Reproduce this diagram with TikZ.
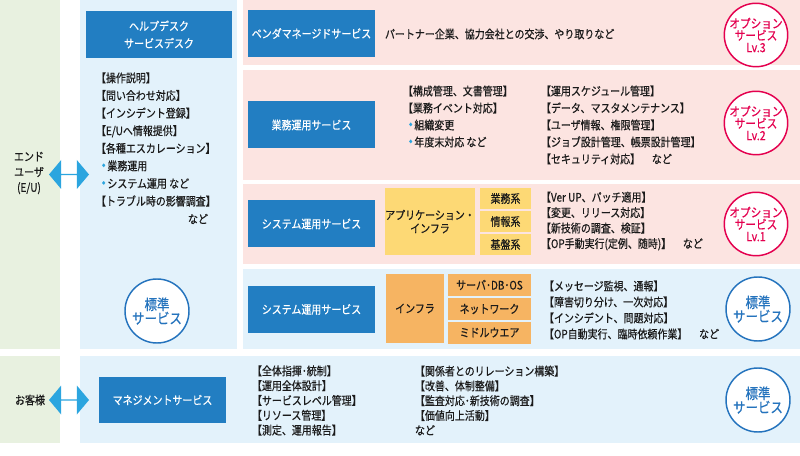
\documentclass[tikz,border=0pt]{standalone}
\usepackage{fontspec}
\setmainfont[FakeStretch=0.85, FakeBold=0.5]{Noto Sans CJK JP}
\usetikzlibrary{shapes.arrows}

\definecolor{bggreen}{HTML}{E8F1E0}
\definecolor{bgblue}{HTML}{E3F2FB}
\definecolor{bgpink}{HTML}{FCE4E1}
\definecolor{boxblue}{HTML}{227EC2}
\definecolor{arrowblue}{HTML}{2BA5DF}
\definecolor{dotblue}{HTML}{2BA5DF}
\definecolor{appyellow}{HTML}{FDD975}
\definecolor{infraorange}{HTML}{F6B462}
\definecolor{optred}{HTML}{E4004F}
\definecolor{stdblue}{HTML}{2473BD}
\definecolor{txtblack}{HTML}{1A1A1A}

\newcommand{\txtfont}{\fontsize{8.8}{13}\selectfont}
\newcommand{\bluedot}{\hspace*{4.5pt}{\color{dotblue}\raisebox{0.3em}{\fontsize{3}{3}\selectfont ●}}\hspace{1.5pt}}

\begin{document}
\begin{tikzpicture}[x=0.75pt, y=-0.75pt,
			every node/.style={inner sep=0pt, outer sep=0pt, text=txtblack, font=\txtfont},
			svcbox/.style={fill=boxblue, text=white, minimum width=95.25pt, minimum height=35.25pt, align=center},
			appbox/.style={fill=appyellow, minimum width=67.5pt, minimum height=50.25pt, align=center, font=\fontsize{8.8}{10}\selectfont},
			appsub/.style={fill=appyellow, minimum width=38.25pt, minimum height=15.75pt},
			infbox/.style={fill=infraorange, minimum width=43.5pt, minimum height=51.75pt},
			infsub/.style={fill=infraorange, minimum width=62.25pt, minimum height=16.5pt},
			optcircle/.style={circle, draw=optred, line width=1.1pt, fill=white, text=optred, minimum size=40.5pt, align=center, font=\fontsize{9.4}{9}\selectfont},
			stdcircle/.style={circle, draw=stdblue, line width=1.1pt, fill=white, text=stdblue, minimum size=48pt, align=center, font=\fontsize{11}{10.5}\selectfont},
			itemlist/.style={anchor=west, align=left},
			dblarrow/.style={double arrow, fill=arrowblue, minimum height=30pt, minimum width=21.75pt, double arrow head extend=5.25pt, double arrow tip angle=100}
			]
			\useasboundingbox (0,0) rectangle (800,456);
			
			% Achtergrondvlakken
			\fill[bggreen] (0,0) rectangle (60,349);
			\fill[bggreen] (0,356) rectangle (60,443);
			\fill[bgblue] (80,0) rectangle (237,349);
			\fill[bgpink] (243,0) rectangle (800,65);
			\fill[bgpink] (243,70) rectangle (800,180);
			\fill[bgpink] (243,184) rectangle (800,264);
			\fill[bgblue] (243,269) rectangle (800,349);
			\fill[bgblue] (80,356) rectangle (800,443);
			
			% Gebruikers en pijlen
			\node[align=center, font=\fontsize{8.8}{11.6}\selectfont] (EU) at (29,173) {エンド\\ユーザ\\(E/U)};
			\node (Kyaku) at (30,400) {お客様};
			\node[dblarrow] (EUarrow) at (69,174.5) {};
			\node[dblarrow] (Kyakuarrow) at (69,400) {};
			
			% Helpdesk-kolom
			\node[svcbox, minimum width=109.5pt, font=\fontsize{8.8}{13}\selectfont] (Helpdesk) at (159,34.5) {ヘルプデスク\\サービスデスク};
			\node[itemlist, font=\fontsize{8.8}{13.2}\selectfont] (HDlist) at (96,139.5) {【操作説明】\\【問い合わせ対応】\\【インシデント登録】\\【E/Uへ情報提供】\\【各種エスカレーション】\\\bluedot 業務運用\\\bluedot システム運用 など\\【トラブル時の影響調査】};
			\node[anchor=west] (HDnado) at (188,219) {など};
			\node[stdcircle] (HDstd) at (157,311) {標準\\サービス};
			
			% Rij 1: vendor
			\node[svcbox] (Vendor) at (311.5,33.5) {ベンダマネージドサービス};
			\node[anchor=west] (Vendortxt) at (385,34) {パートナー企業、協力会社との交渉、やり取りなど};
			\node[optcircle] (Opt3) at (756,35) {オプション\\サービス\\Lv.3};
			
			% Rij 2: bedrijfsbeheer
			\node[svcbox] (Gyomu) at (311.5,125) {業務運用サービス};
			\node[itemlist, font=\fontsize{8.8}{12.75}\selectfont] (GyomuL) at (403,116.5) {【構成管理、文書管理】\\【業務イベント対応】\\\bluedot 組織変更\\\bluedot 年度末対応 など};
			\node[itemlist, font=\fontsize{8.8}{12.75}\selectfont] (GyomuR) at (541,125) {【運用スケジュール管理】\\【データ、マスタメンテナンス】\\【ユーザ情報、権限管理】\\【ジョブ設計管理、帳票設計管理】\\【セキュリティ対応】\quad など};
			\node[optcircle] (Opt2) at (756,123) {オプション\\サービス\\Lv.2};
			
			% Rij 3: systeembeheer (applicatie)
			\node[svcbox] (SysApp) at (311.5,224) {システム運用サービス};
			\node[appbox] (App) at (430,221.5) {アプリケーション・\\インフラ};
			\node[appsub] (AppA) at (505.5,198.5) {業務系};
			\node[appsub] (AppB) at (505.5,221.5) {情報系};
			\node[appsub] (AppC) at (505.5,244.5) {基盤系};
			\node[itemlist, font=\fontsize{8.8}{11.6}\selectfont] (SysAppL) at (541,221) {【Ver UP、パッチ適用】\\【変更、リリース対応】\\【新技術の調査、検証】\\【OP手動実行(定例、随時)】\quad など};
			\node[optcircle] (Opt1) at (756,224) {オプション\\サービス\\Lv.1};
			
			% Rij 4: systeembeheer (infra)
			\node[svcbox] (SysInf) at (311.5,309.5) {システム運用サービス};
			\node[infbox] (Inf) at (415,308.5) {インフラ};
			\node[infsub] (InfA) at (489.5,285) {サーバ･DB･OS};
			\node[infsub] (InfB) at (489.5,309) {ネットワーク};
			\node[infsub] (InfC) at (489.5,332.5) {ミドルウエア};
			\node[itemlist, font=\fontsize{8.8}{12}\selectfont] (SysInfL) at (544,310) {【メッセージ監視、通報】\\【障害切り分け、一次対応】\\【インシデント、問題対応】\\【OP自動実行、臨時依頼作業】\quad など};
			\node[stdcircle] (Std1) at (758,309) {標準\\サービス};
			
			% Onderste rij: management
			\node[svcbox, minimum height=34.5pt] (Mgmt) at (162.5,400) {マネジメントサービス};
			\node[itemlist, font=\fontsize{8.8}{11.1}\selectfont] (MgmtL) at (252,400.5) {【全体指揮･統制】\\【運用全体設計】\\【サービスレベル管理】\\【リソース管理】\\【測定、運用報告】};
			\node[itemlist, font=\fontsize{8.8}{11.1}\selectfont] (MgmtR) at (415,400.5) {【関係者とのリレーション構築】\\【改善、体制整備】\\【監査対応･新技術の調査】\\【価値向上活動】\\など};
			\node[stdcircle] (Std2) at (758,400) {標準\\サービス};
			
		\end{tikzpicture}
\end{document}
